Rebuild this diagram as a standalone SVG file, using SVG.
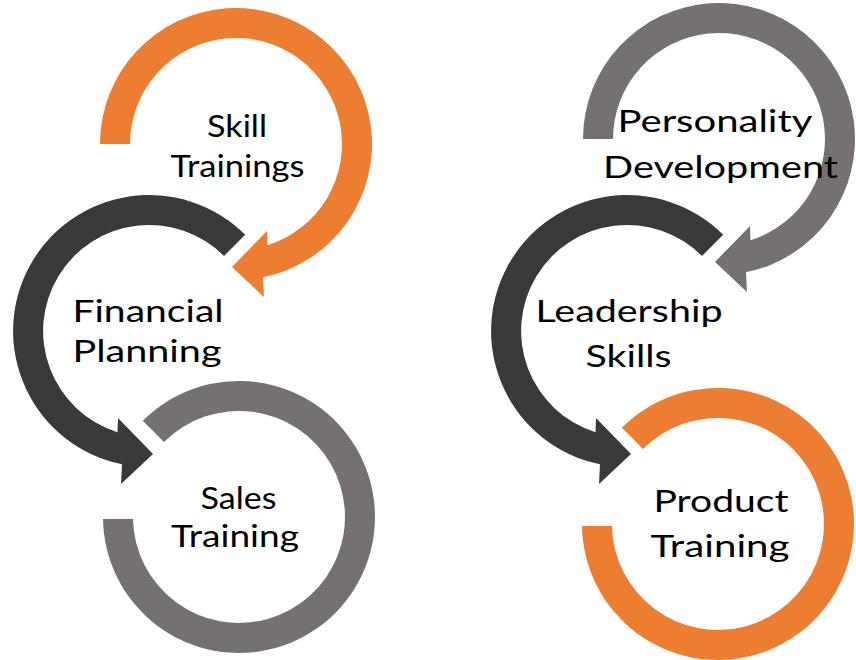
<svg xmlns="http://www.w3.org/2000/svg" xmlns:xlink="http://www.w3.org/1999/xlink" width="856" height="660" viewBox="0 0 856 660">
  <style>
    .orange { fill: #ED7D31; }
    .dark { fill: #3B3838; }
    .gray { fill: #767171; }
    .label { font-family: Lato, "Open Sans", sans-serif; font-size: 31.5px; fill: #000000; text-anchor: middle; }
  </style>
  <defs>
    <!-- clockwise ring starting at left, arrowhead at bottom -->
    <path id="ringA" d="M -136 0 A 136 136 0 1 1 27 133.3 L 28 153 L -4 123 L 31 87 L 31.5 101.2 A 106 106 0 1 0 -106 0 Z"/>
    <!-- counter-clockwise ring starting at upper right, arrowhead at bottom -->
    <path id="ringB" d="M 96.2 -96.2 A 136 136 0 1 0 -27 133.3 L -28 153 L 4 123 L -31 87 L -31.5 101.2 A 106 106 0 1 1 75 -75 Z"/>
    <!-- open ring without arrowhead -->
    <path id="ringC" d="M -96.2 -96.2 A 136 136 0 1 1 -136 2 L -106 2 A 106 106 0 1 0 -75 -75 Z"/>
  </defs>

  <g id="skill-trainings">
    <use xlink:href="#ringA" href="#ringA" class="orange" transform="translate(236,144)"/>
    <text class="label" x="237" y="137" textLength="60" lengthAdjust="spacingAndGlyphs">Skill</text>
    <text class="label" x="237.5" y="177" textLength="134" lengthAdjust="spacingAndGlyphs">Trainings</text>
  </g>

  <g id="financial-planning">
    <use xlink:href="#ringB" href="#ringB" class="dark" transform="translate(149,331)"/>
    <text class="label" x="148" y="322" textLength="151" lengthAdjust="spacingAndGlyphs">Financial</text>
    <text class="label" x="147" y="362" textLength="149" lengthAdjust="spacingAndGlyphs">Planning</text>
  </g>

  <g id="sales-training">
    <use xlink:href="#ringC" href="#ringC" class="gray" transform="translate(239,517)"/>
    <text class="label" x="238.5" y="509" textLength="76" lengthAdjust="spacingAndGlyphs">Sales</text>
    <text class="label" x="235" y="547" textLength="128" lengthAdjust="spacingAndGlyphs">Training</text>
  </g>

  <g id="personality-development">
    <use xlink:href="#ringA" href="#ringA" class="gray" transform="translate(719,139)"/>
    <text class="label" x="715" y="132" textLength="195" lengthAdjust="spacingAndGlyphs">Personality</text>
    <text class="label" x="720.5" y="178" textLength="235" lengthAdjust="spacingAndGlyphs">Development</text>
  </g>

  <g id="leadership-skills">
    <use xlink:href="#ringB" href="#ringB" class="dark" transform="translate(627,331)"/>
    <text class="label" x="629" y="322" textLength="187" lengthAdjust="spacingAndGlyphs">Leadership</text>
    <text class="label" x="628.5" y="367" textLength="86" lengthAdjust="spacingAndGlyphs">Skills</text>
  </g>

  <g id="product-training">
    <use xlink:href="#ringC" href="#ringC" class="orange" transform="translate(718,524)"/>
    <text class="label" x="721" y="512" textLength="135" lengthAdjust="spacingAndGlyphs">Product</text>
    <text class="label" x="720" y="557" textLength="139" lengthAdjust="spacingAndGlyphs">Training</text>
  </g>
</svg>
